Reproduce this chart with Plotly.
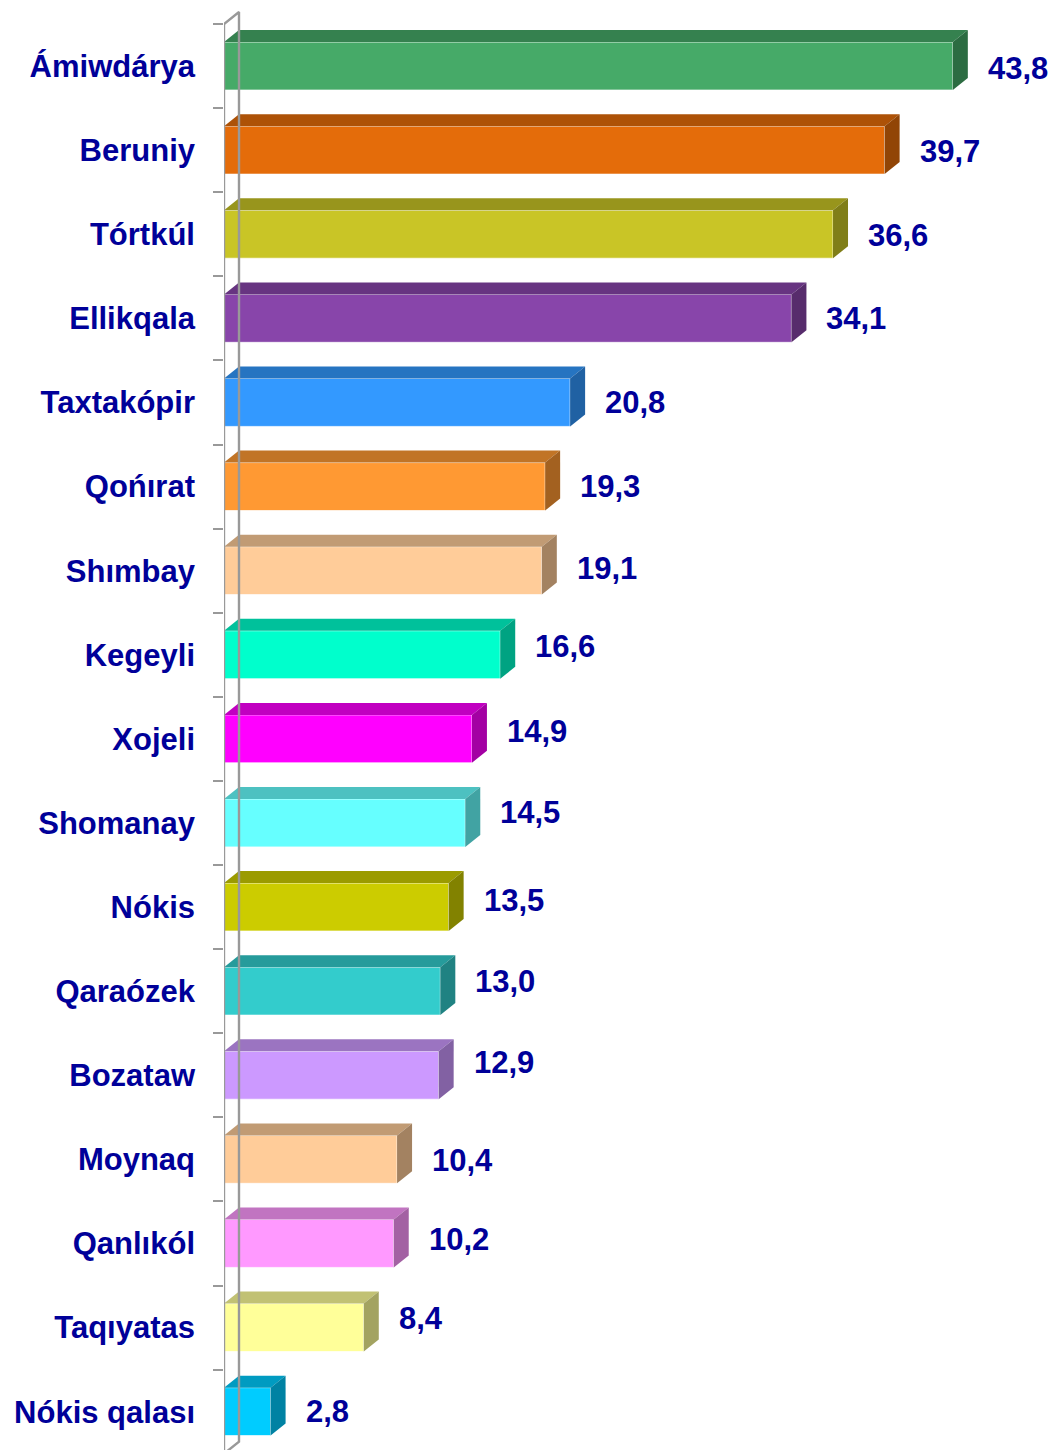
import plotly.graph_objects as go

# Districts (top to bottom) and their values
districts = ["Ámiwdárya", "Beruniy", "Tórtkúl", "Ellikqala", "Taxtakópir", "Qońırat",
             "Shımbay", "Kegeyli", "Xojeli", "Shomanay", "Nókis", "Qaraózek",
             "Bozataw", "Moynaq", "Qanlıkól", "Taqıyatas", "Nókis qalası"]
values = [43.8, 39.7, 36.6, 34.1, 20.8, 19.3, 19.1, 16.6, 14.9, 14.5, 13.5, 13.0,
          12.9, 10.4, 10.2, 8.4, 2.8]
value_text = ["43,8", "39,7", "36,6", "34,1", "20,8", "19,3", "19,1", "16,6", "14,9",
              "14,5", "13,5", "13,0", "12,9", "10,4", "10,2", "8,4", "2,8"]

# Front-face colours of the bars
colors = ["#46AA68", "#E46C0A", "#C9C526", "#8845AA", "#3399FF", "#FF9933",
          "#FFCC99", "#00FFCC", "#FF00FF", "#66FFFF", "#CCCC00", "#33CCCC",
          "#CC99FF", "#FFCC99", "#FF99FF", "#FFFF99", "#00CCFF"]

# Small vertical nudges (px) of the value labels
label_dy = [-2, -1, -1, 0, 0, 0, 2, 8, 7, 10, 7, 10, 13, -1, 4, 9, 0]

W, H = 1056, 1450
M_LEFT = 224
X_MAX = 50.0
BAND_PX = 84.1          # height of one category band
TOP_PX = 24             # pixel row of the first band's upper edge
DEPTH_X, DEPTH_Y = 15, 12   # 3-D depth offset in pixels
BAR_FRAC = 0.57
TEXT = "#000099"
AXIS = "#999999"
FONT = "Liberation Sans, Arial, sans-serif"
FONT_SIZE = 31

px_x = (W - M_LEFT) / X_MAX
y_top = -0.5 - TOP_PX / BAND_PX
y_bot = y_top + H / BAND_PX
dx = DEPTH_X / px_x
dy = DEPTH_Y / BAND_PX
h = BAR_FRAC / 2


def shade(hex_color, k):
    r, g, b = (int(hex_color[i:i + 2], 16) for i in (1, 3, 5))
    return "#%02X%02X%02X" % (int(r * k), int(g * k), int(b * k))


idx = list(range(len(districts)))
fig = go.Figure()

# Front faces
fig.add_trace(go.Bar(
    x=values, y=idx, orientation="h", width=BAR_FRAC,
    marker=dict(color=colors, line=dict(color="rgba(255,255,255,0.7)", width=1)),
    hoverinfo="skip", showlegend=False,
))

# Top and side faces of each block
for i, (v, c) in enumerate(zip(values, colors)):
    fig.add_trace(go.Scatter(
        x=[0, v, v + dx, dx, 0], y=[i - h, i - h, i - h - dy, i - h - dy, i - h],
        mode="lines", fill="toself", fillcolor=shade(c, 0.76),
        line=dict(width=0), hoverinfo="skip", showlegend=False,
    ))
    fig.add_trace(go.Scatter(
        x=[v, v + dx, v + dx, v, v], y=[i - h, i - h - dy, i + h - dy, i + h, i - h],
        mode="lines", fill="toself", fillcolor=shade(c, 0.64),
        line=dict(width=0), hoverinfo="skip", showlegend=False,
    ))

# Wall: front axis, back edge and the connecting slants
y0, y1 = -0.5, len(districts) - 0.5
fig.add_trace(go.Scatter(
    x=[0, 0, None, 0, dx, dx, 0], y=[y0, y1, None, y0, y0 - dy, y1 - dy, y1],
    mode="lines", line=dict(color=AXIS, width=2.4),
    hoverinfo="skip", showlegend=False,
))

# Value labels
for i, (v, t) in enumerate(zip(values, value_text)):
    fig.add_annotation(
        x=v, y=i, text=f"<b>{t}</b>", showarrow=False, xanchor="left", yanchor="middle",
        xshift=33, yshift=label_dy[i],
        font=dict(family=FONT, size=FONT_SIZE, color=TEXT),
    )

fig.update_layout(
    width=W, height=H,
    margin=dict(l=M_LEFT, r=0, t=0, b=0),
    paper_bgcolor="white", plot_bgcolor="white",
    xaxis=dict(range=[0, X_MAX], visible=False),
    yaxis=dict(
        range=[y_bot, y_top], tickmode="array", tickvals=idx,
        ticktext=[f"<b>{d}</b>" for d in districts],
        ticks="", showgrid=False, zeroline=False, showline=False,
        ticklabelstandoff=28,
        tickfont=dict(family=FONT, size=FONT_SIZE, color=TEXT),
        minor=dict(tickmode="array", tickvals=[k - 0.5 for k in range(len(districts) + 1)],
                   ticks="outside", ticklen=10, tickcolor=AXIS, tickwidth=2.4, showgrid=False),
    ),
)

fig.write_html("out.html")
